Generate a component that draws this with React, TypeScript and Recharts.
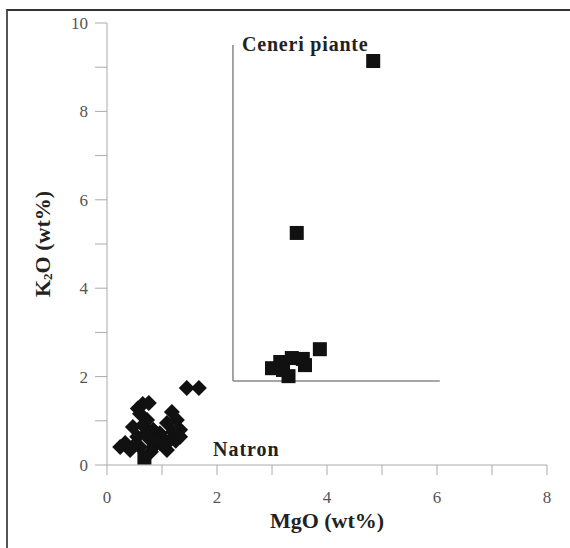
import React from 'react';
import { ScatterChart, Scatter, XAxis, YAxis, ReferenceLine } from 'recharts';

// Natron (diamonds)
const natronMgO = [1.45, 1.67, 0.65, 0.76, 0.56, 0.6, 1.18, 1.27, 1.33, 1.33, 1.09, 0.24, 0.33, 0.47, 0.55, 0.84, 0.96, 1.09, 0.84, 0.78, 0.96, 1.15, 0.73, 0.6, 0.42, 0.7, 0.65, 1.0, 1.2, 0.9, 1.05, 0.5, 0.8, 1.25];
const natronK2O = [1.74, 1.74, 1.38, 1.4, 1.28, 1.16, 1.2, 1.02, 0.8, 0.64, 0.95, 0.41, 0.5, 0.86, 0.64, 0.8, 0.72, 0.34, 0.41, 0.57, 0.5, 0.57, 1.02, 0.41, 0.34, 0.7, 0.9, 0.62, 0.75, 0.55, 0.45, 0.45, 0.3, 0.55];

// Ceneri piante (squares)
const ceneriMgO = [4.84, 3.45, 3.87, 3.0, 3.15, 3.36, 3.56, 3.6, 3.3, 3.2, 0.68];
const ceneriK2O = [9.14, 5.25, 2.62, 2.19, 2.33, 2.42, 2.4, 2.26, 2.01, 2.15, 0.17];

const xTicks = [0, 1, 2, 3, 4, 5, 6, 7, 8];
const yTicks = [0, 1, 2, 3, 4, 5, 6, 7, 8, 9, 10];

// bracket around the "Ceneri piante" field
const fieldLeft = 2.29;
const fieldRight = 6.05;
const fieldBottom = 1.9;
const fieldTop = 9.5;

const natron = natronMgO.map((x, i) => ({ x, y: natronK2O[i] }));
const ceneri = ceneriMgO.map((x, i) => ({ x, y: ceneriK2O[i] }));

const FONT = "'Liberation Serif', 'Times New Roman', serif";
const evenOnly = (v: number) => (v % 2 === 0 ? String(v) : '');

const Diamond = (props: any) => {
  const { cx, cy } = props;
  const r = 8;
  return <polygon points={`${cx},${cy - r} ${cx + r},${cy} ${cx},${cy + r} ${cx - r},${cy}`} fill="#111" />;
};

const Square = (props: any) => {
  const { cx, cy } = props;
  const s = 14;
  return <rect x={cx - s / 2} y={cy - s / 2} width={s} height={s} fill="#111" />;
};

const XTick = (props: any) => {
  const { x, y, payload } = props;
  return (
    <text x={x} y={y} dy="0.71em" textAnchor="middle" fontFamily={FONT} fontSize={17} fill="#555">
      {evenOnly(payload.value)}
    </text>
  );
};

const YTick = (props: any) => {
  const { x, y, payload } = props;
  return (
    <text x={x} y={y} dy="0.355em" textAnchor="end" fontFamily={FONT} fontSize={17} fill="#555">
      {evenOnly(payload.value)}
    </text>
  );
};

const XTitle = (props: any) => {
  const { x, y, width, height } = props.viewBox;
  return (
    <text x={x + width / 2} y={y + height + 33} textAnchor="middle" fontFamily={FONT} fontWeight="bold" fontSize={22} fill="#222">
      MgO (wt%)
    </text>
  );
};

const YTitle = (props: any) => {
  const { x, y, height } = props.viewBox;
  const cx = x - 5;
  const cy = y + height / 2;
  return (
    <text x={cx} y={cy} transform={`rotate(-90, ${cx}, ${cy})`} textAnchor="middle" dominantBaseline="central" fontFamily={FONT} fontWeight="bold" fontSize={22} fill="#222">
      <tspan>K</tspan>
      <tspan fontSize={13} dy={5}>2</tspan>
      <tspan dy={-5}>O (wt%)</tspan>
    </text>
  );
};

export default function App() {
  return (
    <div style={{ position: 'absolute', left: 0, top: 0, width: 570, height: 548, background: '#fff', overflow: 'hidden', fontFamily: FONT }}>
      <div style={{ position: 'absolute', left: 6, top: 9, width: 700, height: 700, borderTop: '2px solid #333', borderLeft: '2px solid #555' }} />
      <div style={{ position: 'absolute', left: 0, top: 0 }}>
        <ScatterChart width={570} height={548} margin={{ top: 23, right: 23, bottom: 53, left: 47 }}>
          <XAxis
            type="number"
            dataKey="x"
            domain={[0, 8]}
            ticks={xTicks}
            interval={0}
            height={30}
            stroke="#aaa"
            tickSize={10}
            tickMargin={16}
            tick={<XTick />}
            label={{ position: 'bottom', content: (p: any) => <XTitle {...p} /> }}
          />
          <YAxis
            type="number"
            dataKey="y"
            domain={[0, 10]}
            ticks={yTicks}
            interval={0}
            width={60}
            stroke="#aaa"
            tickSize={12}
            tickMargin={7}
            tick={<YTick />}
            label={{ position: 'left', content: (p: any) => <YTitle {...p} /> }}
          />
          <ReferenceLine segment={[{ x: fieldLeft, y: fieldBottom }, { x: fieldLeft, y: fieldTop }]} stroke="#888" strokeWidth={1.5} />
          <ReferenceLine segment={[{ x: fieldLeft, y: fieldBottom }, { x: fieldRight, y: fieldBottom }]} stroke="#888" strokeWidth={1.5} />
          <Scatter data={natron} shape={Diamond} isAnimationActive={false} />
          <Scatter data={ceneri} shape={Square} isAnimationActive={false} />
        </ScatterChart>
      </div>
      <div style={{ position: 'absolute', left: 242, top: 33, fontWeight: 'bold', fontSize: 20, letterSpacing: 0.8, color: '#222', whiteSpace: 'nowrap' }}>
        Ceneri piante
      </div>
      <div style={{ position: 'absolute', left: 213, top: 438, fontWeight: 'bold', fontSize: 20, letterSpacing: 1, color: '#222', whiteSpace: 'nowrap' }}>
        Natron
      </div>
    </div>
  );
}
